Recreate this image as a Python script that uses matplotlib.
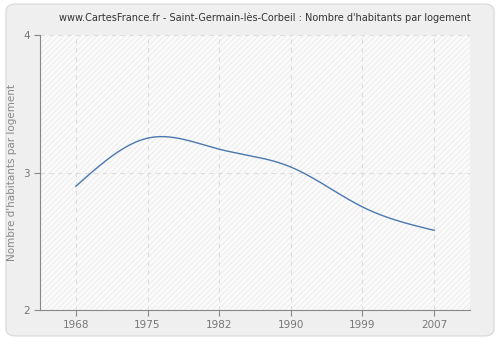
import matplotlib
matplotlib.use("Agg")
import matplotlib.pyplot as plt
from matplotlib.patches import FancyBboxPatch
import numpy as np

years = [1968, 1975, 1982, 1990, 1999, 2007]
values = [2.90, 3.25, 3.17, 3.04, 2.75, 2.58]
y_ticks = [2, 3, 4]
title = "www.CartesFrance.fr - Saint-Germain-lès-Corbeil : Nombre d'habitants par logement"
y_label = "Nombre d'habitants par logement"


# natural cubic spline through the points, numpy only
def natural_spline(x, y, xs):
    x = np.asarray(x, float)
    y = np.asarray(y, float)
    n = len(x)
    h = np.diff(x)
    A = np.zeros((n, n))
    r = np.zeros(n)
    A[0, 0] = 1
    A[-1, -1] = 1
    for i in range(1, n - 1):
        A[i, i - 1] = h[i - 1]
        A[i, i] = 2 * (h[i - 1] + h[i])
        A[i, i + 1] = h[i]
        r[i] = 3 * ((y[i + 1] - y[i]) / h[i] - (y[i] - y[i - 1]) / h[i - 1])
    c = np.linalg.solve(A, r)
    out = np.empty_like(xs)
    for j, xv in enumerate(xs):
        i = min(np.searchsorted(x, xv, side="right") - 1, n - 2)
        i = max(i, 0)
        dx = xv - x[i]
        b = (y[i + 1] - y[i]) / h[i] - h[i] * (2 * c[i] + c[i + 1]) / 3
        d = (c[i + 1] - c[i]) / (3 * h[i])
        out[j] = y[i] + b * dx + c[i] * dx ** 2 + d * dx ** 3
    return out


def main():
    fig = plt.figure(figsize=(5, 3.4), dpi=100)
    fig.patch.set_facecolor("white")

    # rounded grey frame behind everything
    frame = FancyBboxPatch((0.012, 0.012), 0.976, 0.976,
                           boxstyle="round,pad=0,rounding_size=0.02",
                           transform=fig.transFigure, facecolor="#efefef",
                           edgecolor="#dddddd", linewidth=1, zorder=-5)
    fig.patches.append(frame)

    ax = fig.add_axes([0.08, 0.088, 0.86, 0.809])
    ax.set_facecolor("#fbfbfb")
    ax.add_patch(plt.Rectangle((0, 0), 1, 1, transform=ax.transAxes,
                               facecolor="none", edgecolor="#f0f0f0",
                               hatch="//////", linewidth=0, zorder=0))

    # years are placed as evenly spaced categories
    pos = np.arange(len(years))
    xs = np.linspace(pos[0], pos[-1], 300)
    ax.plot(xs, natural_spline(pos, values, xs), color="#4a78b0", linewidth=1, zorder=3)

    ax.set_xlim(-0.5, len(years) - 0.5)
    ax.set_ylim(2, 4)
    ax.set_xticks(pos)
    ax.set_xticklabels([str(y) for y in years])
    ax.set_yticks(y_ticks)
    ax.grid(True, color="#dddddd", linestyle=(0, (4, 4)), linewidth=0.8)
    ax.set_axisbelow(True)

    for s in ["top", "right"]:
        ax.spines[s].set_visible(False)
    for s in ["left", "bottom"]:
        ax.spines[s].set_color("#888888")
    ax.tick_params(colors="#888888", labelcolor="#777777", labelsize=7.5, length=4)

    ax.set_ylabel(y_label, color="#888888", fontsize=7.5)
    fig.text(0.53, 0.948, title, ha="center", va="center", fontsize=7, color="#333333")

    plt.savefig("out.png", dpi=100)
    plt.close()


if __name__ == "__main__":
    main()
